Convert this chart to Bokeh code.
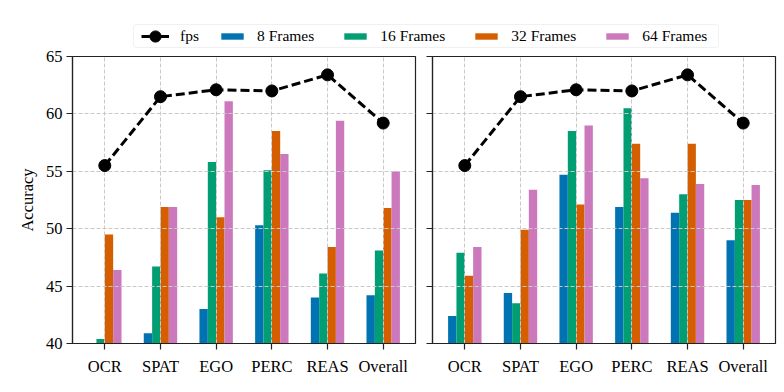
from bokeh.plotting import figure
from bokeh.layouts import column, row
from bokeh.models import Range1d, FixedTicker, Legend, LegendItem, BoxAnnotation
from bokeh.embed import file_html
from bokeh.resources import INLINE

categories = ["OCR", "SPAT", "EGO", "PERC", "REAS", "Overall"]
fps = [55.5, 61.5, 62.1, 62.0, 63.4, 59.2]

left_8 = [39.0, 40.9, 43.0, 50.3, 44.0, 44.2]
left_16 = [40.4, 46.7, 55.8, 55.1, 46.1, 48.1]
left_32 = [49.5, 51.9, 51.0, 58.5, 48.4, 51.8]
left_64 = [46.4, 51.9, 61.1, 56.5, 59.4, 55.0]

right_8 = [42.4, 44.4, 54.7, 51.9, 51.4, 49.0]
right_16 = [47.9, 43.5, 58.5, 60.5, 53.0, 52.5]
right_32 = [45.9, 49.9, 52.1, 57.4, 57.4, 52.5]
right_64 = [48.4, 53.4, 59.0, 54.4, 53.9, 53.8]

series_labels = ["8 Frames", "16 Frames", "32 Frames", "64 Frames"]
colors = ["#0173b2", "#029e73", "#d55e00", "#cc78bc"]
yticks = [40, 45, 50, 55, 60, 65]

FONT = "Liberation Serif"
BAR_W = 0.15
SPINE = "#222222"


def make_panel(series, show_labels, width, border_left, border_right):
    p = figure(width=width, height=340, output_backend="svg", toolbar_location=None,
               x_range=Range1d(-0.58, 5.58), y_range=Range1d(40, 65),
               min_border_left=border_left, min_border_right=border_right,
               min_border_top=8, min_border_bottom=45)
    p.background_fill_color = "white"
    p.border_fill_color = "white"
    p.outline_line_color = SPINE
    p.outline_line_width = 1.2
    idx = list(range(len(categories)))
    n = len(series)
    for k, (vals, col) in enumerate(zip(series, colors)):
        off = (k - (n - 1) / 2) * BAR_W
        xs = [i + off for i in idx]
        p.vbar(x=xs, top=vals, bottom=0, width=BAR_W, fill_color=col,
               line_color=None, level="underlay")
    p.line(x=idx, y=fps, line_color="black", line_width=3, line_dash="9 4",
           level="annotation")
    p.scatter(x=idx, y=fps, size=12, fill_color="black", line_color="black",
              level="annotation")

    for g in (p.xgrid, p.ygrid):
        g.grid_line_color = "#c8c8c8"
        g.grid_line_dash = "4 2"
        g.grid_line_width = 1
        g.level = "glyph"
    p.xgrid.ticker = FixedTicker(ticks=idx)
    p.ygrid.ticker = FixedTicker(ticks=yticks)

    p.xaxis.ticker = FixedTicker(ticks=idx)
    p.xaxis.major_label_overrides = {i: c for i, c in zip(idx, categories)}
    p.yaxis.ticker = FixedTicker(ticks=yticks)
    for ax in (p.xaxis, p.yaxis):
        ax.axis_line_color = SPINE
        ax.axis_line_width = 1.2
        ax.major_tick_line_color = SPINE
        ax.major_tick_line_width = 1.2
        ax.major_tick_out = 6
        ax.major_tick_in = 0
        ax.minor_tick_out = 0
        ax.minor_tick_in = 0
        ax.major_label_text_font = FONT
        ax.major_label_text_font_size = "16.5px"
        ax.major_label_text_color = "black"
    p.xaxis.major_label_standoff = 7
    if show_labels:
        p.yaxis.major_label_standoff = 4
        p.yaxis.axis_label = "Accuracy"
        p.yaxis.axis_label_text_font = FONT
        p.yaxis.axis_label_text_font_size = "16.5px"
        p.yaxis.axis_label_text_font_style = "normal"
        p.yaxis.axis_label_text_color = "black"
        p.yaxis.axis_label_standoff = 6
    else:
        p.yaxis.major_label_standoff = 0
        p.yaxis.major_label_overrides = {t: "" for t in yticks}
    return p


p1 = make_panel([left_8, left_16, left_32, left_64], True, 417, 72, 2)
p2 = make_panel([right_8, right_16, right_32, right_64], False, 361, 15, 3)

# legend strip: data-unit = pixel; the renderers' real data lies outside the
# visible ranges, so only their legend glyphs appear
idx = list(range(len(categories)))
lf = figure(width=778, height=48, output_backend="svg", toolbar_location=None,
            x_range=Range1d(0, 778), y_range=Range1d(-48, 0),
            x_axis_location=None, y_axis_location=None,
            min_border_left=0, min_border_right=0, min_border_top=0, min_border_bottom=0)
lf.outline_line_color = None
lf.xgrid.visible = False
lf.ygrid.visible = False

frame_box = BoxAnnotation(left=133, right=718, top=-24, bottom=-47,
                          fill_color="white", fill_alpha=1.0,
                          line_color="#cccccc", line_width=1, border_radius=3)
lf.add_layout(frame_box)

r_line = lf.line(x=idx, y=fps, line_color="black", line_width=3)
r_pt = lf.scatter(x=idx, y=fps, size=12, fill_color="black", line_color="black")
leg1 = Legend(items=[LegendItem(label="fps", renderers=[r_line, r_pt])],
              orientation="horizontal", location=(141, -2),
              glyph_width=28, glyph_height=28, label_standoff=11,
              padding=0, margin=0, label_height=14, label_width=10,
              label_text_font=FONT, label_text_font_size="15.5px",
              label_text_color="black",
              border_line_color=None, background_fill_alpha=0.0)

items = []
for lab, col, vals in zip(series_labels, colors, [left_8, left_16, left_32, left_64]):
    r = lf.vbar(x=idx, top=vals, bottom=0, width=BAR_W, fill_color=col, line_color=None)
    items.append(LegendItem(label=lab, renderers=[r]))
leg2 = Legend(items=items, orientation="horizontal", location=(218, 3),
              glyph_width=28, glyph_height=8, label_standoff=11, spacing=27,
              padding=4, margin=0, label_height=14, label_width=10,
              label_text_font=FONT, label_text_font_size="15.5px",
              label_text_color="black",
              border_line_color=None, background_fill_alpha=0.0)
lf.add_layout(leg1, "center")
lf.add_layout(leg2, "center")

layout = column(lf, row(p1, p2, spacing=0), spacing=0)

open("out.html", "w").write(file_html(layout, INLINE))
